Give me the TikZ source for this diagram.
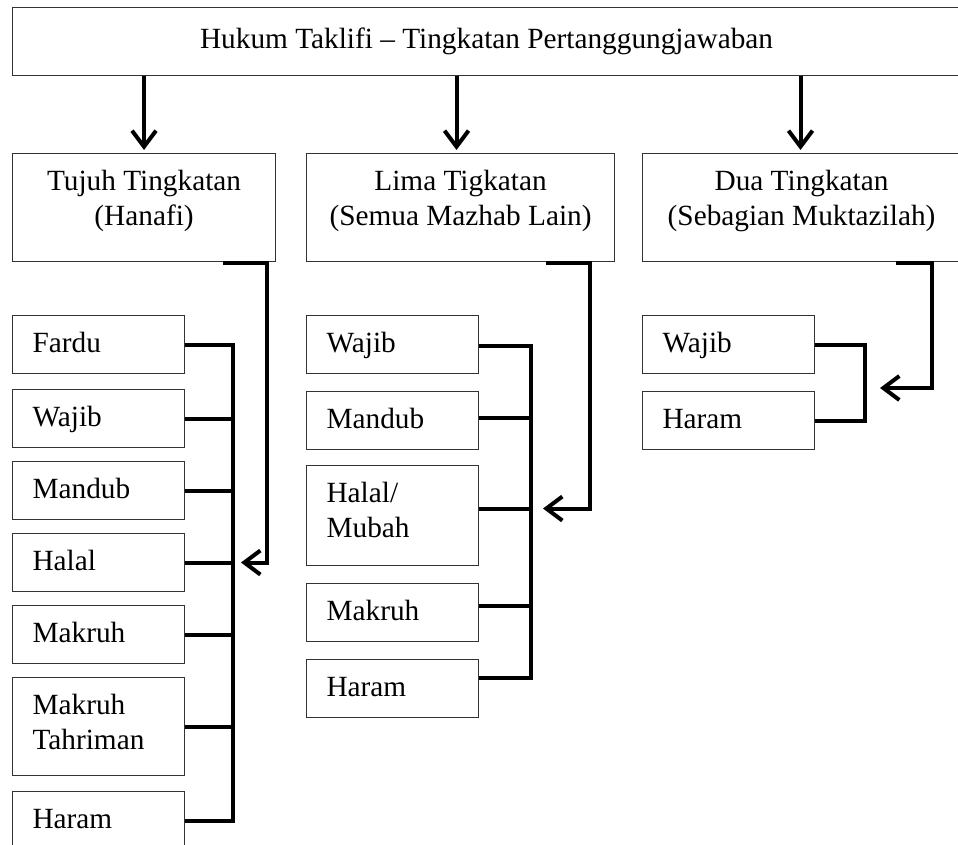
\documentclass[tikz,border=0pt]{standalone}
\usepackage{fontspec}
\setmainfont{Liberation Serif}
\usetikzlibrary{arrows.meta,calc}
\begin{document}
\begin{tikzpicture}[x=1pt,y=-1pt,
  box/.style={draw=black!80, line width=1.1pt, inner sep=0pt, anchor=north west,
    font=\fontsize{29.3}{34.5}\selectfont},
  item/.style={box, align=left, text width=132pt, inner xsep=20pt, inner ysep=16pt,
    text height=21pt, text depth=#1},
  item/.default=5pt,
  head/.style={box, align=center, inner ysep=16pt, text height=55.5pt, text depth=20.5pt},
  conn/.style={line width=4pt, line join=miter},
  arr/.style={conn, -{Straight Barb[length=16pt,width=24pt]}},
]
\useasboundingbox (0,0) rectangle (958,845);
\clip (0,0) rectangle (958,845);

% title and the three groups
\node[box, minimum width=948pt, minimum height=68pt] (title) at (12,7)
  {Hukum Taklifi – Tingkatan Pertanggungjawaban};
\node[head, minimum width=263pt] (h1) at (12,153) {Tujuh Tingkatan\\(Hanafi)};
\node[head, minimum width=308pt] (h2) at (306,153) {Lima Tigkatan\\(Semua Mazhab Lain)};
\node[head, minimum width=318pt] (h3) at (642,153) {Dua Tingkatan\\(Sebagian Muktazilah)};

\draw[arr, shorten >=3pt] (h1.north |- title.south) -- (h1.north);
\draw[arr, shorten >=3pt] ($(h2.north |- title.south)+(-4,0)$) -- ($(h2.north)+(-4,0)$);
\draw[arr, shorten >=3pt] ($(h3.north |- title.south)+(-1,0)$) -- ($(h3.north)+(-1,0)$);

% Hanafi column
\node[item] (L1) at (12,315) {Fardu};
\node[item] (L2) at (12,389) {Wajib};
\node[item] (L3) at (12,461) {Mandub};
\node[item] (L4) at (12,533) {Halal};
\node[item] (L5) at (12,605) {Makruh};
\node[item=45pt] (L6) at (12,677) {Makruh\\Tahriman};
\node[item] (L7) at (12,791) {Haram};

\coordinate (busL) at (233,0);
\draw[conn] (L1.east) -| (busL |- L7.east) -- (L7.east);
\foreach \i in {2,...,6} \draw[conn] (L\i.east) -- (L\i.east -| busL);
\coordinate (tipL) at ($(L4.east -| busL)+(8,0)$);
\draw[arr] ($(h1.south west)+(211,1)$) -- ++(44,0) |- (tipL);

% other schools column
\node[item] (M1) at (306,315) {Wajib};
\node[item] (M2) at (306,391) {Mandub};
\node[item=47pt] (M3) at (306,465) {Halal/\\Mubah};
\node[item] (M4) at (306,583) {Makruh};
\node[item] (M5) at (306,659) {Haram};

\coordinate (busM) at (531,0);
\coordinate (m1) at ($(M1.east)+(0,1)$);
\coordinate (m2) at ($(M2.east)+(0,-3)$);
\coordinate (m3) at ($(M3.east)+(0,-7)$);
\coordinate (m4) at ($(M4.east)+(0,-7)$);
\coordinate (m5) at ($(M5.east)+(0,-11)$);
\draw[conn] (m1) -| (busM |- m5) -- (m5);
\foreach \i in {2,3,4} \draw[conn] (m\i) -- (m\i -| busM);
\coordinate (tipM) at ($(m3 -| busM)+(12,0)$);
\draw[arr] ($(h2.south west)+(240,1)$) -- ++(44,0) |- (tipM);

% Muktazilah column
\node[item] (R1) at (642,315) {Wajib};
\node[item] (R2) at (642,391) {Haram};

\coordinate (busR) at (865,0);
\draw[conn] (R1.east) -| (busR |- R2.east) -- (R2.east);
\coordinate (tipR) at (880,388);
\draw[arr] ($(h3.south west)+(254,1)$) -- ++(36,0) |- (tipR);
\end{tikzpicture}
\end{document}
